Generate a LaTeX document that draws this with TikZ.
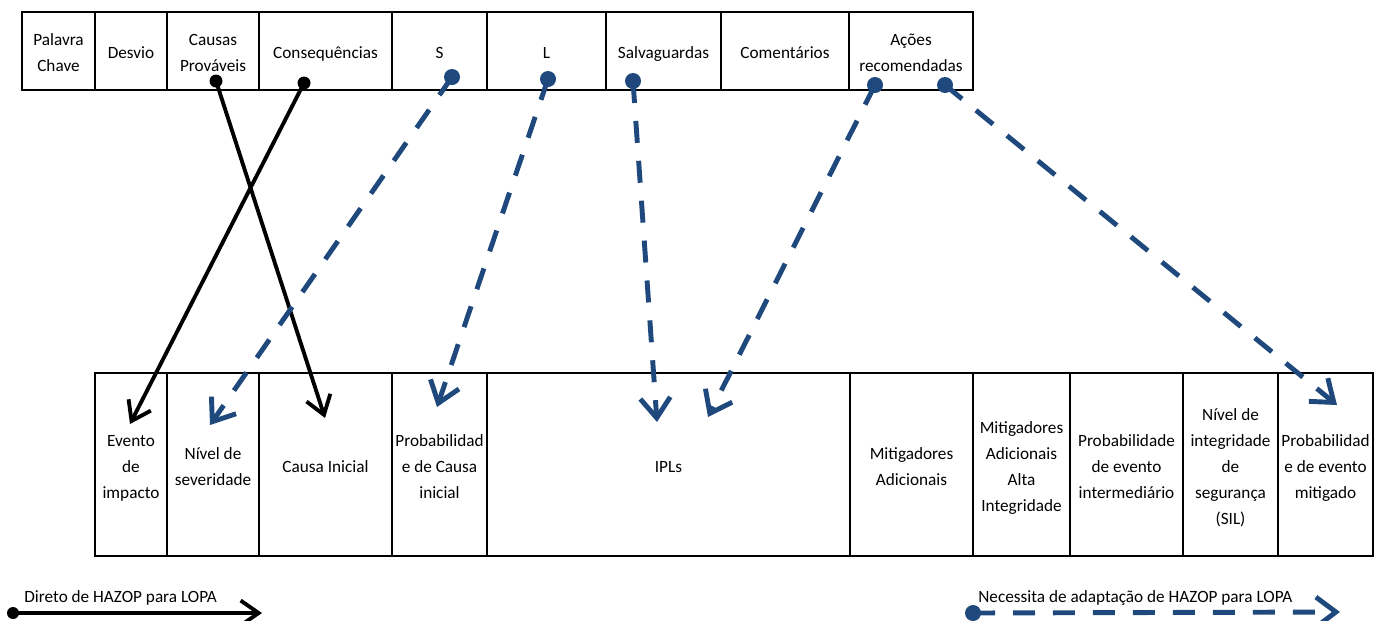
\documentclass[tikz,border=0pt]{standalone}
\usepackage{fontspec}
\setmainfont{Carlito}
\usetikzlibrary{arrows.meta}
\definecolor{adaptblue}{RGB}{31,73,125}
\tikzset{
  txt/.style={font=\fontsize{9.8}{14.8}\selectfont},
  cell/.style={txt, draw, line width=1.1pt, inner sep=0pt, align=center,
    execute at begin node={\rule{0pt}{\dimexpr14.8pt*#1-3.1pt\relax}},
    execute at end node={\rule[-3.1pt]{0pt}{0pt}}},
  dot/.style={circle, fill, inner sep=0pt, minimum size=#1},
  direto/.style={line width=2.2pt, -{Straight Barb[length=0.36cm,width=0.5cm]}},
  adapt/.style={adaptblue, line width=2.8pt, dash pattern=on 0.44cm off 0.36cm,
    -{Straight Barb[length=0.4cm,width=0.6cm]}},
}
\begin{document}
\begin{tikzpicture}[x=0.02cm,y=-0.02cm]
                \useasboundingbox (0,0) rectangle (1386,620);
                % HAZOP
                \foreach \xa/\xb/\nm/\nlin/\lbl in {22/95/palavra/2/{Palavra\\Chave}, 95/167/desvio/1/Desvio,
                    167/259/causas/2/{Causas\\Prováveis}, 259/392/conseq/1/Consequências, 392/487/sev/1/S,
                    487/606/lik/1/L, 606/721/salv/1/Salvaguardas, 721/849/coment/1/Comentários,
                    849/973/acoes/2/{Ações\\recomendadas}}{
                    \node[cell=\nlin, minimum width={(\xb-\xa)*0.02cm}, minimum height=1.56cm]
                        (\nm) at ({(\xa+\xb)/2},51) {\lbl};
                }
                % LOPA
                \foreach \xa/\xb/\nm/\nlin/\lbl in {95/167/evento/3/{Evento\\de\\impacto}, 167/259/nivel/2/{Nível de\\severidade},
                    259/392/causa/1/Causa Inicial, 392/487/probci/3/{Probabilidad\\e de Causa\\inicial},
                    487/850/ipl/1/IPLs, 850/973/mitig/2/{Mitigadores\\Adicionais},
                    973/1070/mitigai/4/{Mitigadores\\Adicionais\\Alta\\Integridade},
                    1070/1183/probei/3/{Probabilidade\\de evento\\intermediário},
                    1183/1278/sil/5/{Nível de\\integridade\\de\\segurança\\(SIL)},
                    1278/1373/probem/3/{Probabilidad\\e de evento\\mitigado}}{
                    \node[cell=\nlin, minimum width={(\xb-\xa)*0.02cm}, minimum height=3.66cm]
                        (\nm) at ({(\xa+\xb)/2},464.5) {\lbl};
                }
                \node[dot=0.26cm] (dCausas) at (216,81) {};
                \node[dot=0.26cm] (dConseq) at (304,83) {};
                \node[dot=0.32cm, adaptblue] (dSev) at (452,77) {};
                \node[dot=0.32cm, adaptblue] (dLik) at (548,79) {};
                \node[dot=0.32cm, adaptblue] (dSalv) at (633,81) {};
                \node[dot=0.32cm, adaptblue] (dAcoesA) at (875,85) {};
                \node[dot=0.32cm, adaptblue] (dAcoesB) at (945,85) {};
                \coordinate (tCausa) at (325,418);
                \coordinate (tEvento) at (130,424);
                \coordinate (tNivel) at (210,425);
                \coordinate (tProbci) at (437,407);
                \coordinate (tIplA) at (657,422);
                \coordinate (tIplB) at (708,417);
                \coordinate (tProbem) at (1337,405);
                \draw[direto] (dCausas.center) -- (tCausa);
                \draw[direto] (dConseq.center) -- (tEvento);
                \draw[adapt] (dSev.center) -- (tNivel);
                \draw[adapt] (dLik.center) -- (tProbci);
                \draw[adapt] (dSalv.center) -- (tIplA);
                \draw[adapt] (dAcoesA.center) -- (tIplB);
                \draw[adapt] (dAcoesB.center) -- (tProbem);
                % legenda
                \node[dot=0.24cm] (lgDireto) at (13,613) {};
                \coordinate (lgDiretoEnd) at (262,613);
                \draw[direto] (lgDireto.center) -- (lgDiretoEnd);
                \node[txt, anchor=west, inner sep=0pt] (lgDiretoTxt) at (24,598) {Direto de HAZOP para LOPA};
                \node[dot=0.32cm, adaptblue] (lgAdapt) at (973,613) {};
                \coordinate (lgAdaptEnd) at (1340,612);
                \draw[adapt] (lgAdapt.center) -- (lgAdaptEnd);
                \node[txt, anchor=west, inner sep=0pt] (lgAdaptTxt) at (978,598) {Necessita de adaptação de HAZOP para LOPA};
\end{tikzpicture}
\end{document}
